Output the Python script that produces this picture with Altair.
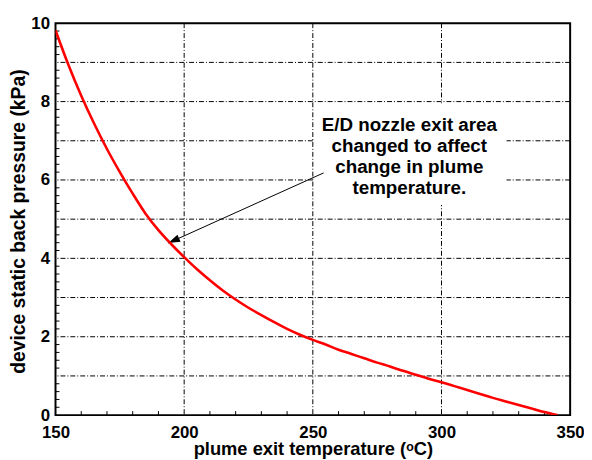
import altair as alt
import pandas as pd

# curve data
temps = [150, 155, 160, 165, 170, 175, 180, 185, 190, 195, 200, 205, 210, 215, 220,
         225, 230, 235, 240, 245, 250, 255, 260, 265, 270, 275, 280, 285, 290, 295,
         300, 305, 310, 315, 320, 325, 330, 335, 340, 345]
pressures = [9.82, 8.94, 8.15, 7.44, 6.79, 6.20, 5.65, 5.14, 4.72, 4.36, 4.03, 3.72,
             3.44, 3.18, 2.95, 2.74, 2.55, 2.37, 2.20, 2.05, 1.92, 1.80, 1.67, 1.56,
             1.45, 1.34, 1.24, 1.13, 1.03, 0.93, 0.84, 0.74, 0.64, 0.54, 0.44, 0.35,
             0.26, 0.17, 0.08, 0.0]

x_major = [150, 200, 250, 300, 350]
y_labels = [0, 2, 4, 6, 8, 10]
y_grid = [1, 2, 3, 4, 5, 6, 7, 8, 9]
x_minor = [160, 170, 180, 190, 210, 220, 230, 240, 260, 270, 280, 290, 310, 320, 330, 340]
y_minor = [round(0.2 * i, 1) for i in range(1, 50) if i % 5 != 0]

note_lines = ["E/D nozzle exit area", "changed to affect", "change in plume", "temperature."]
note_x, note_y = 287.5, 7.41
box_x, box_x2, box_y, box_y2 = 250.6, 325.3, 5.36, 7.96
arrow_tail = (254.2, 6.18)
arrow_tip = (193.8, 4.39)

W, H = 520, 396
FONT = "Liberation Sans"

xs = alt.Scale(domain=[150, 350], nice=False, zero=False)
ys = alt.Scale(domain=[0, 10], nice=False, zero=False)

x_axis = alt.Axis(
    values=x_major, title="plume exit temperature (ᵒC)", grid=False,
    ticks=False, domain=False, labelFont=FONT, labelFontSize=17,
    labelFontWeight="bold", labelColor="black", labelBaseline="alphabetic",
    labelPadding=23, titleFont=FONT, titleFontSize=18.5, titleFontWeight="bold",
    titleColor="black", titleBaseline="alphabetic", titleY=40, labelFlush=False)
y_axis = alt.Axis(
    values=y_labels, title="device static back pressure (kPa)", grid=False,
    ticks=False, domain=False, labelFont=FONT, labelFontSize=17,
    labelFontWeight="bold", labelColor="black", labelPadding=6,
    titleFont=FONT, titleFontSize=19.5, titleFontWeight="bold",
    titleColor="black", titleBaseline="middle", titleX=-37, titleY=200,
    labelFlush=False)


def X(field):
    return alt.X(field, scale=xs, axis=x_axis)


def Y(field):
    return alt.Y(field, scale=ys, axis=y_axis)


curve_df = pd.DataFrame({"t": temps, "p": pressures})

grid_x = alt.Chart(pd.DataFrame({"v": x_major[1:-1]})).mark_rule(
    color="black", strokeWidth=1, strokeDash=[5, 2, 1, 2]).encode(x=X("v:Q"))
grid_y = alt.Chart(pd.DataFrame({"v": y_grid})).mark_rule(
    color="black", strokeWidth=1, strokeDash=[5, 2, 1, 2]).encode(y=Y("v:Q"))

curve = alt.Chart(curve_df).mark_line(
    color="#ff0000", strokeWidth=2.6, clip=True, interpolate="monotone").encode(
    x=X("t:Q"), y=Y("p:Q"))

xt = alt.Chart(pd.DataFrame({"v": x_minor})).mark_rule(color="black", strokeWidth=1).encode(
    x=X("v:Q"), y=alt.value(H), y2=alt.value(H - 4))
yt = alt.Chart(pd.DataFrame({"v": y_minor})).mark_rule(color="black", strokeWidth=1).encode(
    y=Y("v:Q"), x=alt.value(0), x2=alt.value(4))

box = alt.Chart(pd.DataFrame({"x": [box_x], "x2": [box_x2], "y": [box_y], "y2": [box_y2]})).mark_rect(
    color="white").encode(x=X("x:Q"), x2="x2:Q", y=Y("y:Q"), y2="y2:Q")

note = alt.Chart(pd.DataFrame({"x": [note_x], "y": [note_y]})).mark_text(
    text=note_lines, font=FONT, fontSize=19, fontWeight="bold", color="black",
    lineHeight=21.2, align="center", baseline="middle").encode(x=X("x:Q"), y=Y("y:Q"))

arrow_df = pd.DataFrame({"x": [arrow_tail[0]], "y": [arrow_tail[1]],
                         "x2": [arrow_tip[0]], "y2": [arrow_tip[1]]})
arrow = alt.Chart(arrow_df).mark_rule(color="black", strokeWidth=1).encode(
    x=X("x:Q"), y=Y("y:Q"), x2="x2:Q", y2="y2:Q")
head = alt.Chart(pd.DataFrame({"x": [arrow_tip[0]], "y": [arrow_tip[1]]})).mark_point(
    shape="M0,0L0.65,2L-0.65,2Z", size=144, filled=True, color="black", opacity=1,
    angle=245.7).encode(x=X("x:Q"), y=Y("y:Q"))

chart = alt.layer(grid_x, grid_y, box, xt, yt, arrow, head, note, curve).properties(
    width=W, height=H, autosize=alt.AutoSizeParams(type="none"),
    padding={"left": 48, "top": 13, "right": 14, "bottom": 44},
    background="white",
).configure_view(stroke="black", strokeWidth=2)

chart.save("out.html", embed_options={"renderer": "svg", "actions": False})
